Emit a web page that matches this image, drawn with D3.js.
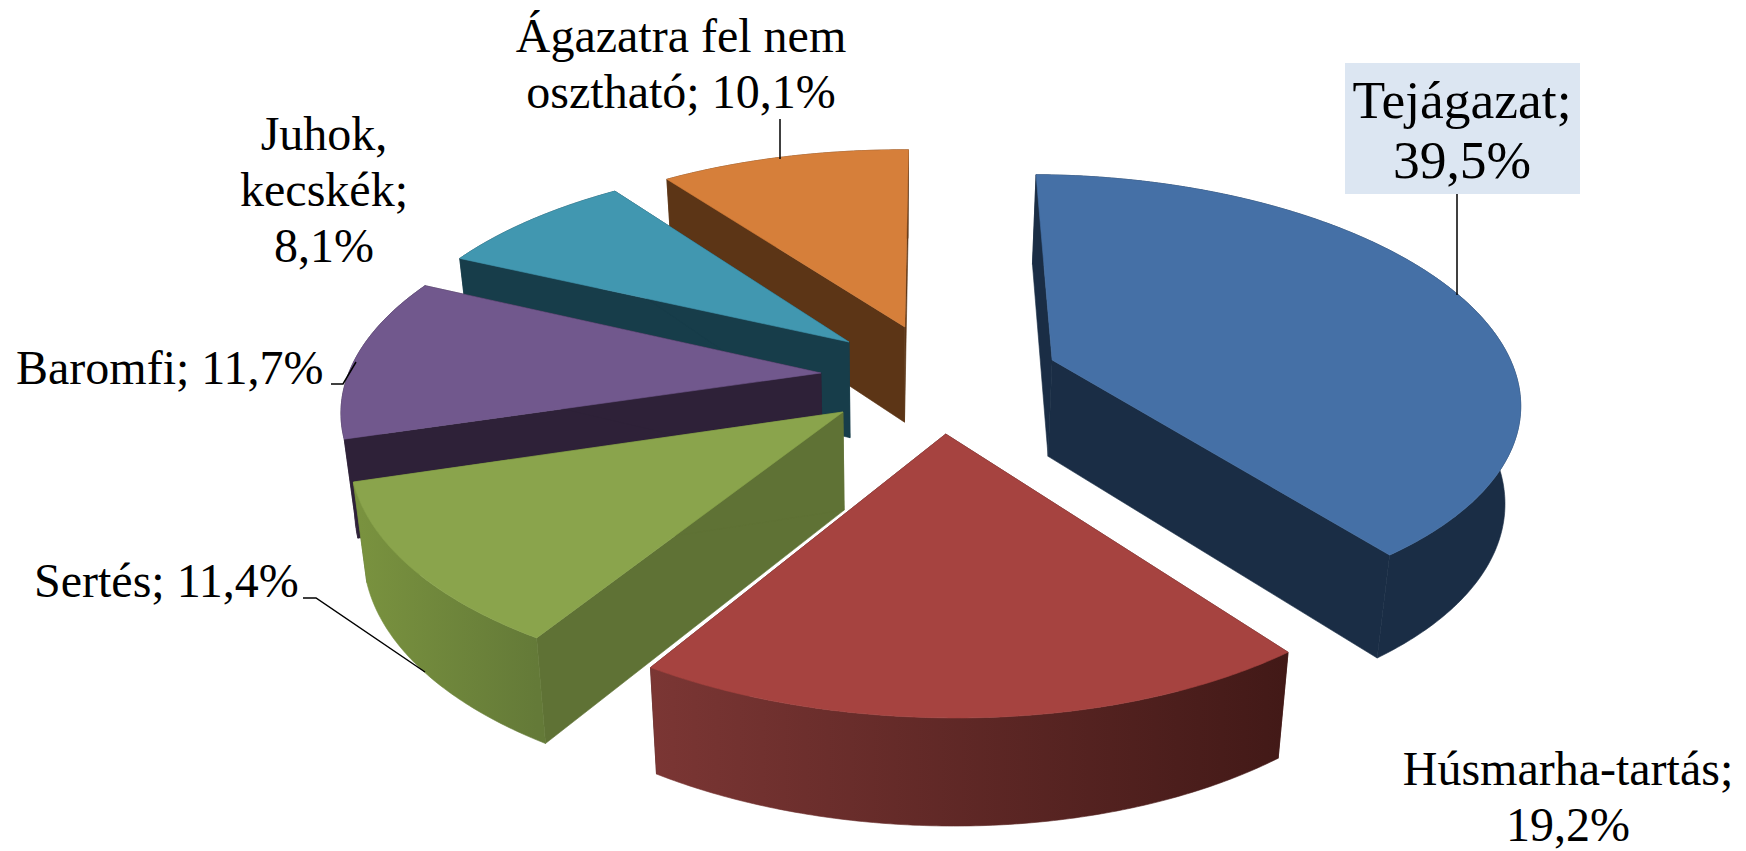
<!DOCTYPE html>
<html><head><meta charset="utf-8">
<script src="https://cdn.jsdelivr.net/npm/d3@7/dist/d3.min.js"></script>
<style>html,body{margin:0;padding:0;background:#fff;overflow:hidden}svg{display:block}
text{font-family:"Liberation Serif",serif;fill:#000}</style></head><body>
<svg id="c" width="1746" height="851"></svg>
<script>
const categories=["Tejágazat","Húsmarha-tartás","Sertés","Baromfi","Juhok, kecskék","Ágazatra fel nem osztható"];
const shares=[39.5,19.2,11.4,11.7,8.1,10.1];
const valueLabels=["39,5%","19,2%","11,4%","11,7%","8,1%","10,1%"];
const topColors=["#4570a6","#a64340","#8aa44c","#71588d","#4197b0","#d67f3a"];
const cutColors=["#1a2d45","#441a18","#5f7235","#2e2138","#173d4a","#5c3516"];
const wallLeft=["#1a2d45","#7b3634","#7a933f","#2e2138","#173d4a","#5c3516"];
const wallRight=["#1a2d45","#421917","#647a38","#2e2138","#173d4a","#5c3516"];
const explodeX=[.341,.110,-.098,-.147,-.090,.030];
const explodeY=[.0875,-.2406,-.1465,.0275,.1727,.2455];
const drawOrder=[0,5,4,3,2,1];

const cx=891,cy=379,Rx=479,Ry=220,k=.157,depth=97,bottomScale=.975,rot=.014,rightFactor=.97,leftFactor=.99;
const svg=d3.select("#c"),defs=svg.append("defs");
const sx=d3.scaleLinear().domain([0,1]).range([0,Rx]);
const sy=d3.scaleLinear().domain([0,1]).range([0,Ry]);
const pie=d3.pie().sort(null).value(d=>d).startAngle(rot).endAngle(2*Math.PI+rot);
const arcs=pie(shares);
const line=d3.line();
function proj(X,Y,bottom){
  const w=1+k*Y;
  const px=sx(X)/w,py=-sy(Y)/w;
  return bottom?[cx+px*bottomScale,cy+py+depth/Math.sqrt(w)]:[cx+px,cy+py];
}
drawOrder.forEach(i=>{
  const a=arcs[i],ex=explodeX[i],ey=explodeY[i];
  const n=Math.ceil((a.endAngle-a.startAngle)/0.01);
  const angs=d3.range(n+1).map(t=>a.startAngle+(a.endAngle-a.startAngle)*t/n);
  const rim=b=>angs.map(t=>{const s=Math.sin(t);return proj(ex+s*(s>0?rightFactor:leftFactor),ey+Math.cos(t),b);});
  const apex=b=>proj(ex,ey,b);
  const rT=rim(false),rB=rim(true);
  const g=svg.append("g");
  const gid="w"+i;
  const xs=rT.map(p=>p[0]);
  const lg=defs.append("linearGradient").attr("id",gid).attr("gradientUnits","userSpaceOnUse")
    .attr("x1",d3.min(xs)).attr("x2",d3.max(xs)).attr("y1",0).attr("y2",0);
  lg.append("stop").attr("offset",0).attr("stop-color",wallLeft[i]);
  lg.append("stop").attr("offset",1).attr("stop-color",wallRight[i]);
  const face=(pts,fill)=>g.append("path").attr("d",line(pts)+"Z").attr("fill",fill).attr("stroke",fill).attr("stroke-width",.6).attr("stroke-linejoin","round");
  face([apex(false),rT[0],rB[0],apex(true)],cutColors[i]);
  face([apex(false),rT[n],rB[n],apex(true)],cutColors[i]);
  face(rT.concat(rB.slice().reverse()),"url(#"+gid+")");
  face([apex(false)].concat(rT),topColors[i]);
});

// leader lines
const leaders=[
 [[1457,194],[1457,295]],
 [[303,598],[316,598],[425,672]],
 [[331,384],[343,384],[356,362]],
 [[780,119],[780,159]]
];
leaders.forEach(l=>svg.append("path").attr("d",line(l)).attr("fill","none").attr("stroke","#000").attr("stroke-width",1.5));

svg.append("rect").attr("x",1345).attr("y",63).attr("width",235).attr("height",131).attr("fill","#dce6f2");
const label=(lines,x,y,lh,size,anchor)=>{
  const t=svg.append("text").attr("font-size",size).attr("text-anchor",anchor);
  lines.forEach((s,j)=>t.append("tspan").attr("x",x).attr("y",y+j*lh).text(s));
};
label([categories[0]+";",valueLabels[0]],1462,118,60,53.5,"middle");
label([categories[1]+";",valueLabels[1]],1568,785,55.5,48,"middle");
label([categories[2]+"; "+valueLabels[2]],34,597,0,48,"start");
label([categories[3]+"; "+valueLabels[3]],16,384,0,48,"start");
label(["Juhok,","kecskék;",valueLabels[4]],324,150,56,48,"middle");
label(["Ágazatra fel nem","osztható; "+valueLabels[5]],681,52,56,48,"middle");
</script></body></html>
